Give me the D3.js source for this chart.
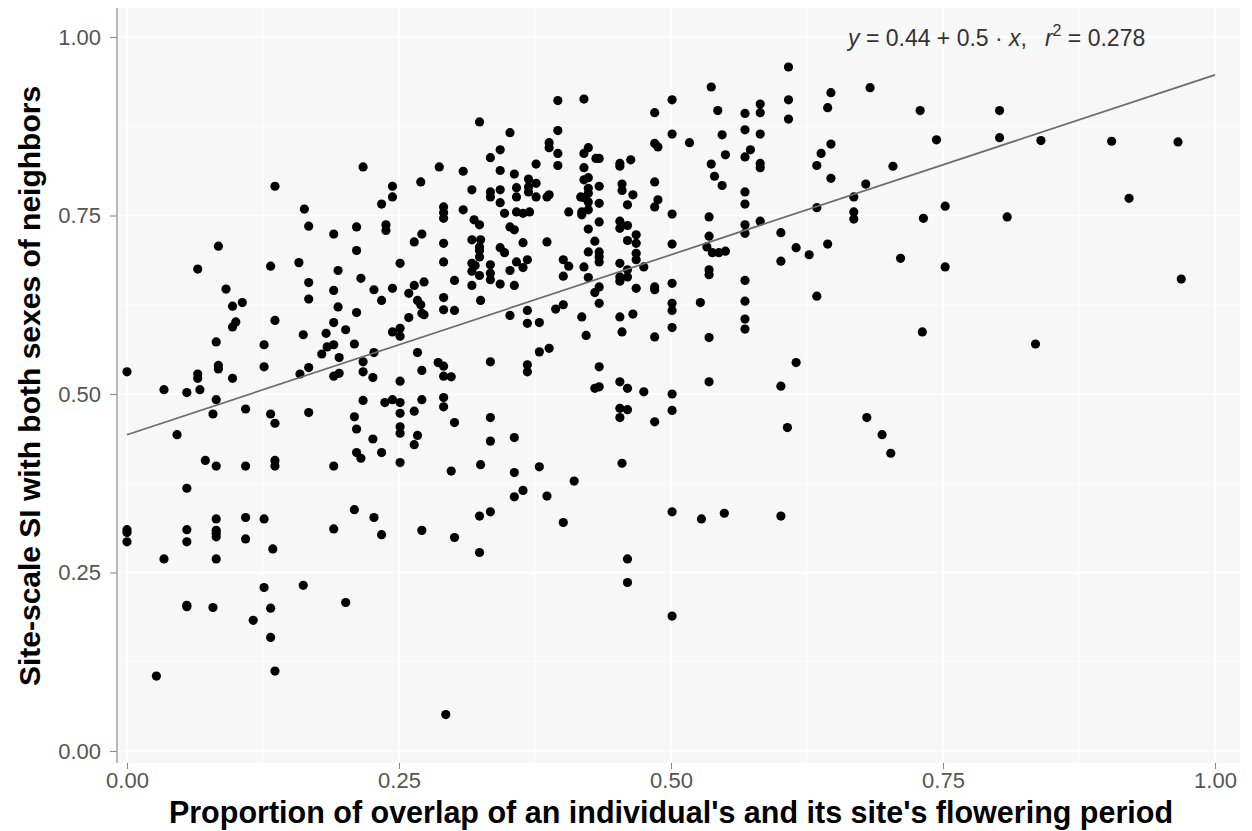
<!DOCTYPE html>
<html>
<head>
<meta charset="utf-8">
<script src="https://cdn.jsdelivr.net/npm/d3@7"></script>
<style>
  body { margin: 0; background: #fff; }
  svg { display: block; font-family: "Liberation Sans", Arial, Helvetica, sans-serif; }
</style>
</head>
<body>
<svg id="chart" width="1252" height="831"></svg>
<script>
// data: proportion of overlap (x) and the site-scale SI values seen at that x
var columns = [
	[0, [0.531, 0.31, 0.306, 0.293]],
	[0.027, [0.105]],
	[0.034, [0.506, 0.269]],
	[0.046, [0.443]],
	[0.055, [0.502, 0.368, 0.31, 0.293, 0.204, 0.202]],
	[0.065, [0.675, 0.528, 0.522]],
	[0.067, [0.506]],
	[0.072, [0.407]],
	[0.079, [0.472, 0.201]],
	[0.082, [0.573, 0.492, 0.399, 0.325, 0.309, 0.305, 0.3, 0.269]],
	[0.084, [0.707, 0.54, 0.535]],
	[0.091, [0.647]],
	[0.097, [0.623, 0.594, 0.522]],
	[0.1, [0.601]],
	[0.106, [0.628]],
	[0.109, [0.479, 0.399, 0.327, 0.297]],
	[0.116, [0.183]],
	[0.126, [0.569, 0.538, 0.325, 0.229]],
	[0.132, [0.679, 0.472, 0.2, 0.159]],
	[0.134, [0.283]],
	[0.136, [0.791, 0.603, 0.459, 0.407, 0.399, 0.112]],
	[0.158, [0.684]],
	[0.159, [0.528]],
	[0.162, [0.583, 0.232]],
	[0.163, [0.759]],
	[0.167, [0.735, 0.656, 0.633, 0.537, 0.474]],
	[0.179, [0.556]],
	[0.183, [0.585]],
	[0.184, [0.566]],
	[0.19, [0.724, 0.645, 0.6, 0.569, 0.525, 0.399, 0.311]],
	[0.194, [0.673, 0.622]],
	[0.195, [0.551, 0.529]],
	[0.201, [0.59, 0.208]],
	[0.209, [0.57, 0.468, 0.338]],
	[0.211, [0.734, 0.701, 0.614, 0.451, 0.418]],
	[0.215, [0.662, 0.41]],
	[0.217, [0.818, 0.545, 0.531, 0.491]],
	[0.226, [0.523, 0.437]],
	[0.227, [0.646, 0.558, 0.327]],
	[0.234, [0.766, 0.631, 0.418, 0.303]],
	[0.237, [0.488]],
	[0.238, [0.737, 0.729]],
	[0.244, [0.791, 0.776, 0.648, 0.587, 0.492]],
	[0.251, [0.683, 0.592, 0.581, 0.518, 0.488, 0.473, 0.454, 0.445, 0.404]],
	[0.259, [0.641, 0.607]],
	[0.264, [0.713, 0.652, 0.476, 0.429]],
	[0.267, [0.631, 0.558, 0.442]],
	[0.27, [0.797, 0.625]],
	[0.271, [0.724, 0.613, 0.533, 0.492, 0.309]],
	[0.273, [0.657, 0.611]],
	[0.286, [0.544]],
	[0.287, [0.818]],
	[0.291, [0.762, 0.754, 0.746, 0.711, 0.685, 0.635, 0.618, 0.539, 0.525, 0.495, 0.482]],
	[0.293, [0.051]],
	[0.298, [0.524, 0.392]],
	[0.301, [0.659, 0.617, 0.46, 0.299]],
	[0.309, [0.812, 0.758]],
	[0.317, [0.786, 0.716, 0.683, 0.672, 0.652]],
	[0.319, [0.744]],
	[0.32, [0.68]],
	[0.324, [0.881, 0.737, 0.706, 0.701, 0.692, 0.666, 0.329, 0.278]],
	[0.325, [0.716, 0.631, 0.401]],
	[0.334, [0.831, 0.783, 0.776, 0.681, 0.669, 0.66, 0.545, 0.467, 0.434, 0.335]],
	[0.343, [0.842, 0.813, 0.786, 0.768, 0.705, 0.654]],
	[0.347, [0.753, 0.698]],
	[0.352, [0.866, 0.734, 0.673, 0.61]],
	[0.356, [0.808, 0.73, 0.652, 0.439, 0.39, 0.356]],
	[0.358, [0.789, 0.776, 0.755, 0.685]],
	[0.364, [0.753, 0.712, 0.677, 0.365]],
	[0.368, [0.688, 0.617, 0.599, 0.541, 0.531]],
	[0.369, [0.801, 0.79, 0.783]],
	[0.37, [0.755]],
	[0.376, [0.822, 0.795, 0.776]],
	[0.379, [0.6, 0.559, 0.398]],
	[0.386, [0.776, 0.713, 0.357]],
	[0.388, [0.852, 0.845, 0.779, 0.564]],
	[0.394, [0.619]],
	[0.396, [0.911, 0.869, 0.837, 0.82]],
	[0.401, [0.688, 0.665, 0.625, 0.32]],
	[0.406, [0.755, 0.679]],
	[0.411, [0.378]],
	[0.417, [0.776]],
	[0.418, [0.755, 0.751, 0.608]],
	[0.42, [0.913, 0.837, 0.817, 0.8, 0.775, 0.678]],
	[0.422, [0.582]],
	[0.424, [0.845, 0.803, 0.788, 0.781, 0.769, 0.758, 0.731, 0.699, 0.663]],
	[0.43, [0.714, 0.642, 0.508]],
	[0.431, [0.83]],
	[0.434, [0.83, 0.791, 0.767, 0.741, 0.699, 0.692, 0.685, 0.65, 0.627, 0.538, 0.51]],
	[0.453, [0.823, 0.819, 0.742, 0.732, 0.683, 0.664, 0.658, 0.608, 0.517, 0.48, 0.467]],
	[0.455, [0.794, 0.785, 0.587, 0.403]],
	[0.46, [0.765, 0.736, 0.715, 0.674, 0.664, 0.508, 0.478, 0.269, 0.236]],
	[0.463, [0.828]],
	[0.465, [0.779, 0.612]],
	[0.468, [0.723, 0.711, 0.697, 0.688, 0.648]],
	[0.475, [0.678, 0.503]],
	[0.485, [0.894, 0.851, 0.797, 0.762, 0.65, 0.646, 0.58, 0.461]],
	[0.488, [0.846, 0.772]],
	[0.501, [0.912, 0.864, 0.752, 0.71, 0.655, 0.627, 0.617, 0.593, 0.5, 0.477, 0.335, 0.189]],
	[0.517, [0.852]],
	[0.527, [0.628]],
	[0.528, [0.325]],
	[0.533, [0.706]],
	[0.535, [0.748, 0.721, 0.674, 0.667, 0.579, 0.517]],
	[0.537, [0.93, 0.822]],
	[0.538, [0.698]],
	[0.54, [0.805]],
	[0.543, [0.897]],
	[0.544, [0.698]],
	[0.547, [0.863, 0.792]],
	[0.549, [0.333]],
	[0.55, [0.835, 0.7]],
	[0.568, [0.893, 0.87, 0.832, 0.783, 0.766, 0.737, 0.725, 0.659, 0.63, 0.605, 0.591]],
	[0.573, [0.842]],
	[0.582, [0.906, 0.894, 0.864, 0.823, 0.817, 0.742]],
	[0.601, [0.726, 0.686, 0.511, 0.329]],
	[0.607, [0.453]],
	[0.608, [0.958, 0.912, 0.885]],
	[0.615, [0.705, 0.544]],
	[0.627, [0.695]],
	[0.634, [0.82, 0.761, 0.637]],
	[0.638, [0.837]],
	[0.644, [0.901, 0.71]],
	[0.647, [0.922, 0.85, 0.802]],
	[0.668, [0.776, 0.755, 0.745]],
	[0.679, [0.794]],
	[0.68, [0.467]],
	[0.683, [0.929]],
	[0.694, [0.443]],
	[0.702, [0.417]],
	[0.704, [0.819]],
	[0.711, [0.69]],
	[0.729, [0.897]],
	[0.731, [0.587]],
	[0.732, [0.746]],
	[0.744, [0.856]],
	[0.752, [0.763, 0.678]],
	[0.802, [0.897, 0.859]],
	[0.809, [0.748]],
	[0.835, [0.57]],
	[0.84, [0.855]],
	[0.905, [0.854]],
	[0.921, [0.774]],
	[0.966, [0.853]],
	[0.969, [0.661]]
];

var xTicks = [0, 0.25, 0.5, 0.75, 1];
var yTicks = [0, 0.25, 0.5, 0.75, 1];
var xMinor = [0.125, 0.375, 0.625, 0.875];
var yMinor = [0.125, 0.375, 0.625, 0.875];

// fitted line (drawn), and its label
var fitIntercept = 0.443,
	fitSlope = 0.504;
var fitRange = [0, 1];

var xTitle = "Proportion of overlap of an individual's and its site's flowering period";
var yTitle = "Site-scale SI with both sexes of neighbors";

var width = 1252,
	height = 831;
var panel = { left: 117, right: 1240, top: 8, bottom: 763 };

var svg = d3.select("#chart");

var x = d3.scaleLinear().domain([0, 1]).range([127, 1215]);
var y = d3.scaleLinear().domain([0, 1]).range([751, 37]);

// flatten
var points = [];
columns.forEach(function (c) {
	c[1].forEach(function (v) {
		points.push({ x: c[0], y: v });
	});
});

svg.append("rect").attr("width", width).attr("height", height).attr("fill", "#fff");

svg
	.append("rect")
	.attr("x", panel.left)
	.attr("y", panel.top)
	.attr("width", panel.right - panel.left)
	.attr("height", panel.bottom - panel.top)
	.attr("fill", "#f7f7f7");

// grid
var grid = svg.append("g").attr("class", "grid").attr("stroke", "#fff");
grid
	.selectAll("line.xminor")
	.data(xMinor)
	.enter()
	.append("line")
	.attr("x1", (d) => x(d))
	.attr("x2", (d) => x(d))
	.attr("y1", panel.top)
	.attr("y2", panel.bottom)
	.attr("stroke-width", 0.8);
grid
	.selectAll("line.yminor")
	.data(yMinor)
	.enter()
	.append("line")
	.attr("y1", (d) => y(d))
	.attr("y2", (d) => y(d))
	.attr("x1", panel.left)
	.attr("x2", panel.right)
	.attr("stroke-width", 0.8);
grid
	.selectAll("line.xmajor")
	.data(xTicks)
	.enter()
	.append("line")
	.attr("x1", (d) => x(d))
	.attr("x2", (d) => x(d))
	.attr("y1", panel.top)
	.attr("y2", panel.bottom)
	.attr("stroke-width", 1.6);
grid
	.selectAll("line.ymajor")
	.data(yTicks)
	.enter()
	.append("line")
	.attr("y1", (d) => y(d))
	.attr("y2", (d) => y(d))
	.attr("x1", panel.left)
	.attr("x2", panel.right)
	.attr("stroke-width", 1.6);

// points
svg
	.append("g")
	.selectAll("circle")
	.data(points)
	.enter()
	.append("circle")
	.attr("cx", (d) => x(d.x))
	.attr("cy", (d) => y(d.y))
	.attr("r", 4.6)
	.attr("fill", "#000");

// regression line
svg
	.append("line")
	.attr("x1", x(fitRange[0]))
	.attr("y1", y(fitIntercept + fitSlope * fitRange[0]))
	.attr("x2", x(fitRange[1]))
	.attr("y2", y(fitIntercept + fitSlope * fitRange[1]))
	.attr("stroke", "#6b6b6b")
	.attr("stroke-width", 1.7);

// axes
var yAxis = svg
	.append("g")
	.attr("transform", "translate(" + panel.left + ",0)")
	.call(d3.axisLeft(y).tickValues(yTicks).tickFormat(d3.format(".2f")).tickSize(7).tickPadding(9));
var xAxis = svg
	.append("g")
	.attr("transform", "translate(0," + panel.bottom + ")")
	.call(d3.axisBottom(x).tickValues(xTicks).tickFormat(d3.format(".2f")).tickSize(6).tickPadding(3));

[xAxis, yAxis].forEach(function (a) {
	a.select(".domain").remove();
	a.selectAll(".tick line").attr("stroke", "#8a8a8a").attr("stroke-width", 1.1);
	a.selectAll(".tick text")
		.attr("fill", "#555")
		.style("font-size", "22px")
		.style("font-family", "Liberation Sans, Arial, sans-serif");
});

svg
	.append("line")
	.attr("x1", panel.left)
	.attr("x2", panel.left)
	.attr("y1", panel.top)
	.attr("y2", panel.bottom)
	.attr("stroke", "#9a9a9a")
	.attr("stroke-width", 1.4);

// titles
svg
	.append("text")
	.attr("x", 671)
	.attr("y", 823)
	.attr("text-anchor", "middle")
	.style("font-size", "30.5px")
	.style("font-weight", "bold")
	.attr("fill", "#000")
	.text(xTitle);

svg
	.append("text")
	.attr("transform", "translate(40," + 386 + ") rotate(-90)")
	.attr("text-anchor", "middle")
	.style("font-size", "30px")
	.style("font-weight", "bold")
	.attr("fill", "#000")
	.text(yTitle);

// equation label
var eq = svg
	.append("text")
	.attr("x", 848)
	.attr("y", 46)
	.style("font-size", "23px")
	.attr("fill", "#333");
eq.append("tspan").style("font-style", "italic").text("y");
eq.append("tspan").text(" = 0.44 + 0.5 \u00b7 ");
eq.append("tspan").style("font-style", "italic").text("x");
eq.append("tspan").text(",\u2002 ");
eq.append("tspan").style("font-style", "italic").text("r");
eq.append("tspan").attr("dy", -10).style("font-size", "16px").text("2");
eq.append("tspan").attr("dy", 10).text(" = 0.278");
</script>
</body>
</html>
